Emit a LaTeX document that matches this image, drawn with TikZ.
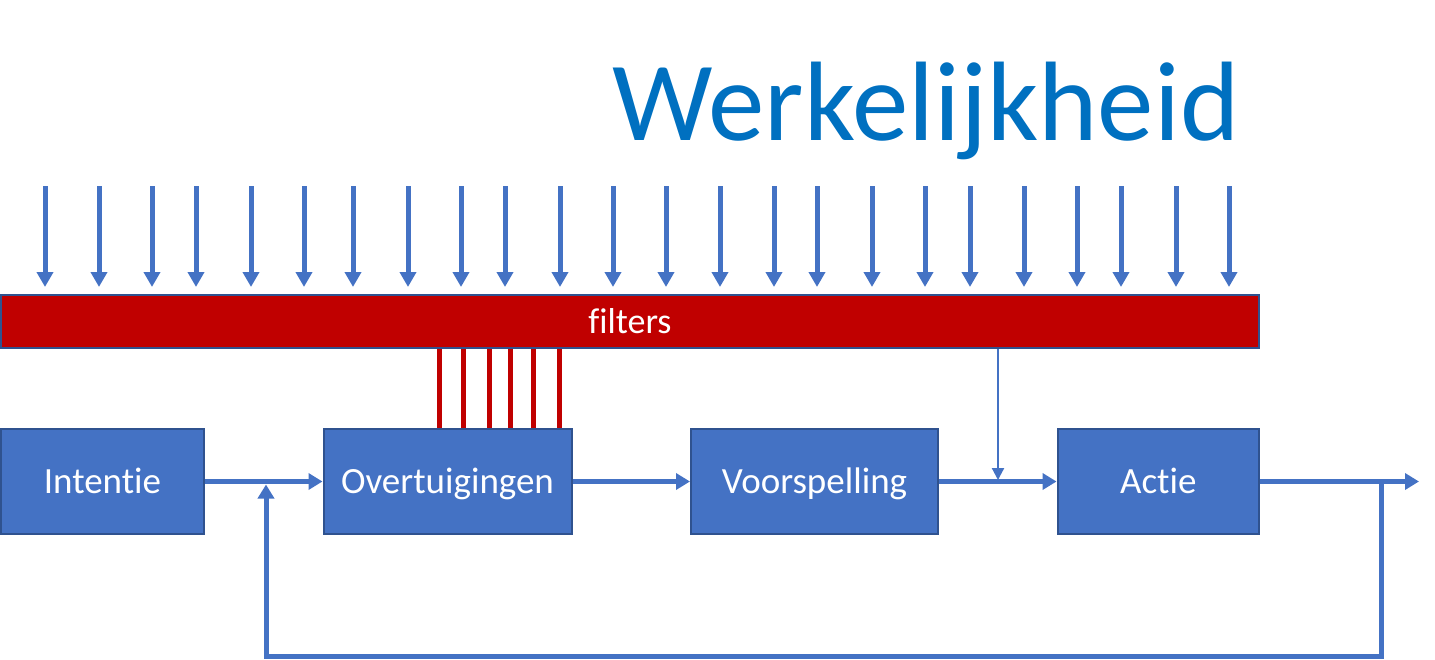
\documentclass[tikz,border=0pt]{standalone}
\usepackage{fontspec}
\setmainfont{Carlito}[Ligatures=NoCommon]
\usetikzlibrary{arrows.meta}
\definecolor{boxblue}{HTML}{4472C4}
\definecolor{boxedge}{HTML}{2F528F}
\definecolor{filtred}{HTML}{C00000}
\definecolor{titleblue}{HTML}{0070C0}
\begin{document}
\begin{tikzpicture}[x=1pt,y=-1pt,
  blk/.style={draw=boxedge,line width=2pt,fill=boxblue,text=white,
    font=\fontsize{37}{40}\selectfont,inner sep=0pt,minimum height=105pt,
    text height=30pt,text depth=6pt},
  conn/.style={draw=boxblue,line width=5pt,line join=miter,-{Triangle[length=14pt,width=16pt]}},
  rain/.style={draw=boxblue,line width=5pt,-{Triangle[length=15pt,width=16pt]}},
  redline/.style={draw=filtred,line width=5pt},
  thinarrow/.style={draw=boxblue,line width=2.2pt,-{Triangle[length=12pt,width=12pt]}}]
\useasboundingbox (0,0) rectangle (1435,659);

% title
\node[anchor=base west,inner sep=0pt,text=titleblue,
  font=\fontsize{113}{120}\selectfont] (title) at (612,140) {Werkelijkheid};

% filter bar
\node[draw=boxedge,line width=2pt,fill=filtred,text=white,
  font=\fontsize{36}{40}\selectfont,inner sep=0pt,
  text height=30pt,text depth=6pt,
  minimum width=1258pt,minimum height=53pt] (bar) at (630,321.5) {filters};

% incoming arrows
\foreach \x [count=\i] in {45,99,152,196,251,304,353,408,461,505,560,613,666,720,774,817,872,925,970,1024,1077,1121,1176,1229}{
  \coordinate (a\i) at (\x,186);
  \draw[rain] (a\i) -- ++(0,101);
}

% boxes
\node[blk,minimum width=203pt] (int) at (102.5,481.5) {Intentie};
\node[blk,minimum width=248pt] (ov) at (447.5,481.5) {Overtuigingen};
\node[blk,minimum width=247pt] (vs) at (814.5,481.5) {Voorspelling};
\node[blk,minimum width=201.5pt] (act) at (1158.3,481.5) {Actie};

% red filter lines
\foreach \x in {439,463,489,510,533,559}{
  \draw[redline] (bar.south -| \x,0) -- (ov.north -| \x,0);
}

% main flow
\draw[conn] (int.east) -- (ov.west);
\draw[conn] (ov.east) -- (vs.west);
\draw[conn] (vs.east) -- (act.west);
\coordinate (out) at (1419,481.5);
\draw[conn] (act.east) -- (out);

% thin arrow from filters
\coordinate (thin) at (998,480);
\draw[thinarrow] (bar.south -| thin) -- (thin);

% feedback loop
\coordinate (fb1) at (1381,484);
\coordinate (fb2) at (1381,656);
\coordinate (fb3) at (266,656);
\coordinate (fb4) at (266,484.5);
\draw[conn] (fb1) -- (fb2) -- (fb3) -- (fb4);
\end{tikzpicture}
\end{document}
